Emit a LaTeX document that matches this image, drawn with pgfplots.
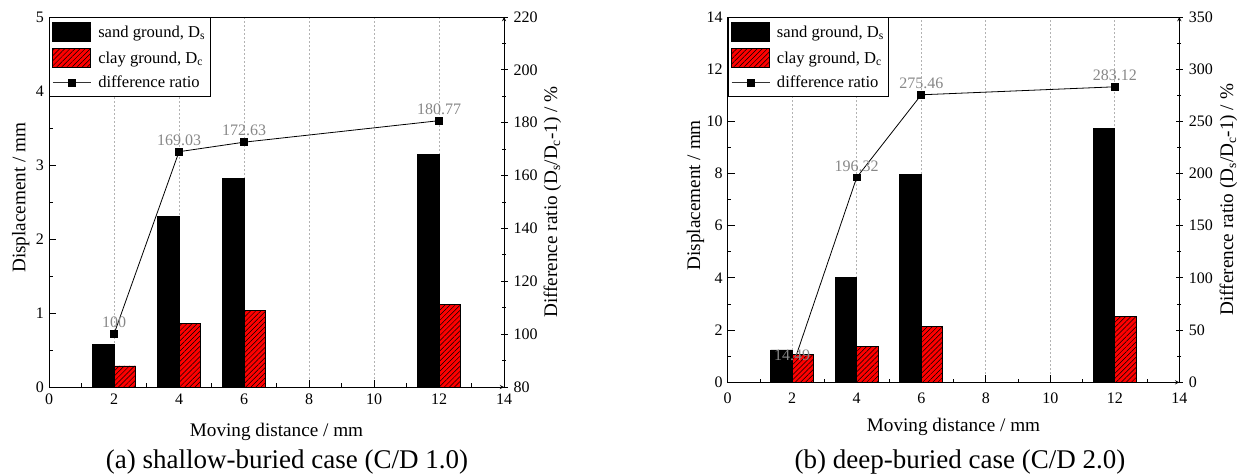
\documentclass[border=0pt]{standalone}
\usepackage{pgfplots}
\pgfplotsset{compat=1.18}
\usepackage{fontspec}
\setmainfont{Liberation Serif}
\usetikzlibrary{patterns.meta}
\newcommand\tickfont{\fontsize{16pt}{19pt}\selectfont}
\newcommand\legfont{\fontsize{16.6pt}{19pt}\selectfont}
\newcommand\labfont{\fontsize{19.2pt}{23pt}\selectfont}
\newcommand\capfont{\fontsize{27pt}{32pt}\selectfont}
\definecolor{barred}{RGB}{255,0,0}
\definecolor{lblgray}{RGB}{135,135,135}
\pgfplotsset{
  base/.style={scale only axis, anchor=south west, xmin=0, xmax=14,
    tick align=inside, major tick length=7pt, minor tick length=3.7pt,
    every tick/.style={black, line width=0.9pt},
    axis line style={-, line width=0.9pt},
    ticklabel style={font=\tickfont},
    /pgf/number format/assume math mode=true,
    label style={font=\labfont}},
  ratioaxis/.style={base, axis y line=right, axis x line=bottom,
    xtick={2,4,...,12}, xticklabels={}, xtick style={draw=none},
    xmajorgrids, major x grid style={black!30, dash pattern=on 2pt off 2pt, line width=0.6pt},
    yticklabel style={xshift=2.5pt}, minor y tick num=1},
  dispaxis/.style={base, xtick={0,2,...,14}, minor x tick num=1, minor y tick num=1,
    tick pos=left, yticklabel style={xshift=-1.5pt}, bar width=0.67,
    xlabel={Moving distance / mm}, ylabel={Displacement / mm},
    legend cell align=left,
    legend style={at={(0,1)}, anchor=north west, draw=black, line width=0.9pt,
      fill=white, font=\legfont, inner xsep=3pt, inner ysep=5pt, row sep=6pt,
      nodes={font=\legfont},
      /tikz/every odd column/.append style={column sep=5pt}}},
  labaxis/.style={base, hide axis},
  sandbar/.style={ybar, fill=black, draw=black, line width=0.8pt, bar shift=-0.335,
    legend image code/.code={\draw[##1] (0pt,-9.5pt) rectangle (38pt,9.5pt);}},
  claybar/.style={ybar, fill=barred, draw=black, line width=0.8pt, bar shift=0.335,
    postaction={pattern={Lines[angle=45,distance=3.6pt,line width=0.5pt]}},
    legend image code/.code={\draw[##1] (0pt,-9.5pt) rectangle (38pt,9.5pt);}},
  ratioline/.style={black, line width=0.8pt, mark=square*, mark size=3.4pt},
  ratiolegend/.style={black!80, line width=0.8pt, mark=square*, mark size=3.4pt,
    mark options={black},
    legend image code/.code={\draw[##1, mark repeat=2, mark phase=2] plot coordinates {(0pt,0pt) (19pt,0pt) (38pt,0pt)};}},
  ratiolab/.style={draw=none, mark=none, nodes near coords, point meta=explicit symbolic,
    every node near coord/.append style={text=lblgray, font=\tickfont, yshift=2.5pt}},
}
\begin{document}
\begin{tikzpicture}
\useasboundingbox (0pt,0pt) rectangle (1242pt,475pt);
% ---------------- left chart (a) ----------------
\begin{axis}[ratioaxis, at={(49pt,88pt)}, width=455pt, height=370pt,
  ymin=80, ymax=220, ytick={80,100,...,220},
  ylabel={Difference ratio (D\textsubscript{s}/D\textsubscript{c}-1) / \%},
  ylabel style={at={(axis description cs:1.1165,0.5)}, anchor=base, font=\labfont}]
\addplot[ratioline] coordinates {(2,100) (4,169.03) (6,172.63) (12,180.77)};
\end{axis}
\begin{axis}[dispaxis, at={(49pt,88pt)}, width=455pt, height=370pt,
  ymin=0, ymax=5, ytick={0,1,...,5},
  xticklabel style={yshift=-3.5pt},
  xlabel style={at={(axis description cs:0.5,-0.1351)}, anchor=base},
  ylabel style={at={(axis description cs:-0.052,0.512)}, anchor=base}]
\addplot[sandbar] coordinates {(2,0.57) (4,2.31) (6,2.82) (12,3.14)};
\addlegendentry{{\legfont sand ground, D\textsubscript{s}}}
\addplot[claybar] coordinates {(2,0.285) (4,0.859) (6,1.034) (12,1.118)};
\addlegendentry{{\legfont clay ground, D\textsubscript{c}}}
\addlegendimage{ratiolegend}
\addlegendentry{{\legfont difference ratio}}
\end{axis}
\begin{axis}[labaxis, at={(49pt,88pt)}, width=455pt, height=370pt, ymin=80, ymax=220]
\addplot[ratiolab] coordinates {(2,100) [100] (4,169.03) [169.03] (6,172.63) [172.63] (12,180.77) [180.77]};
\end{axis}
\node[font=\capfont, anchor=base] at (287pt,6.5pt) {(a) shallow-buried case (C/D 1.0)};
% ---------------- right chart (b) ----------------
\begin{axis}[ratioaxis, at={(727.7pt,92.7pt)}, width=451.6pt, height=365.3pt,
  ymin=0, ymax=350, ytick={0,50,...,350},
  ylabel={Difference ratio (D\textsubscript{s}/D\textsubscript{c}-1) / \%},
  ylabel style={at={(axis description cs:1.119,0.5)}, anchor=base, font=\labfont}]
\addplot[ratioline] coordinates {(2,14.49) (4,196.32) (6,275.46) (12,283.12)};
\end{axis}
\begin{axis}[dispaxis, at={(727.7pt,92.7pt)}, width=451.6pt, height=365.3pt,
  ymin=0, ymax=14, ytick={0,2,...,14},
  xticklabel style={yshift=-7.2pt},
  xlabel style={at={(axis description cs:0.5,-0.1352)}, anchor=base},
  ylabel style={at={(axis description cs:-0.0613,0.512)}, anchor=base}]
\addplot[sandbar] coordinates {(2,1.24) (4,4.02) (6,7.98) (12,9.73)};
\addlegendentry{{\legfont sand ground, D\textsubscript{s}}}
\addplot[claybar] coordinates {(2,1.083) (4,1.357) (6,2.125) (12,2.54)};
\addlegendentry{{\legfont clay ground, D\textsubscript{c}}}
\addlegendimage{ratiolegend}
\addlegendentry{{\legfont difference ratio}}
\end{axis}
\begin{axis}[labaxis, at={(727.7pt,92.7pt)}, width=451.6pt, height=365.3pt, ymin=0, ymax=350]
\addplot[ratiolab] coordinates {(2,14.49) [14.49] (4,196.32) [196.32] (6,275.46) [275.46] (12,283.12) [283.12]};
\end{axis}
\node[font=\capfont, anchor=base] at (960pt,6.5pt) {(b) deep-buried case (C/D 2.0)};
\end{tikzpicture}
\end{document}
